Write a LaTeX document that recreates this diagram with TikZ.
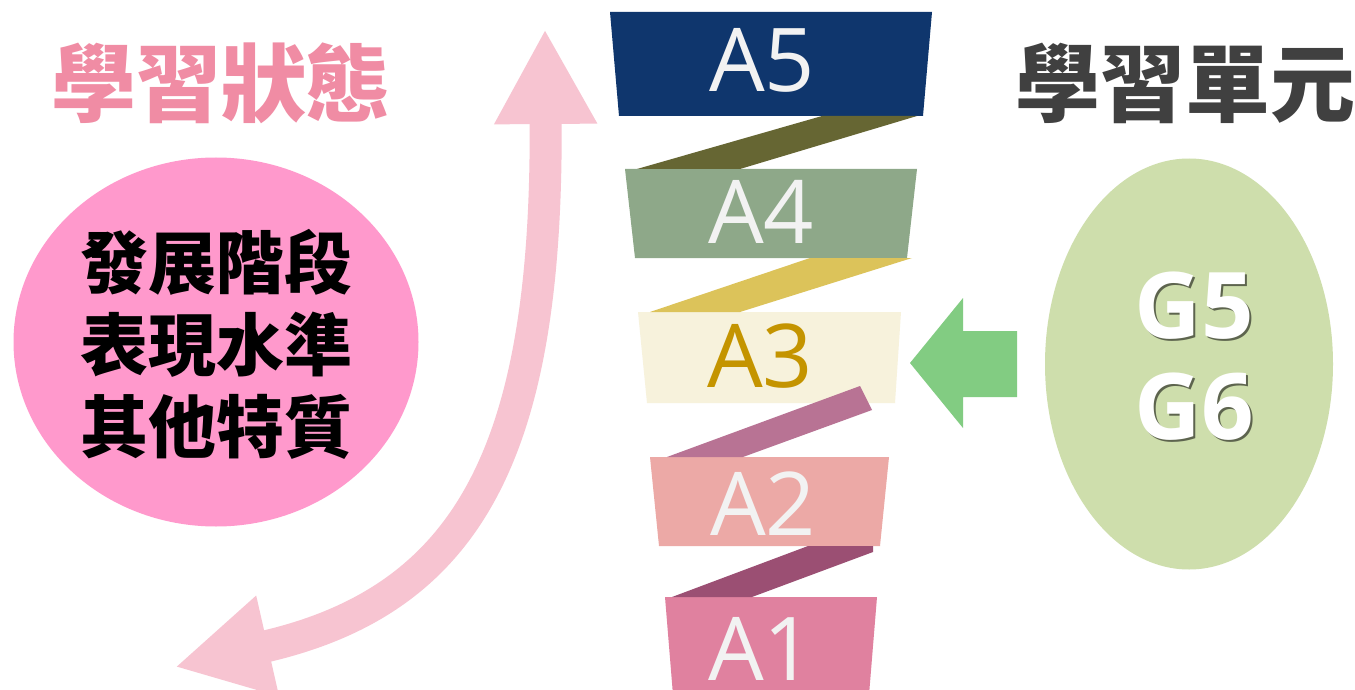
\documentclass[tikz,border=0pt]{standalone}
\usepackage{fontspec}
\usetikzlibrary{arrows.meta,shapes.geometric}
\newfontfamily\cjk{Noto Sans CJK TC}
\newfontfamily\lat{Open Sans}
\definecolor{cA5}{HTML}{0F366D}
\definecolor{cA4}{HTML}{8EA889}
\definecolor{cA3}{HTML}{F7F2DC}
\definecolor{tA3}{HTML}{C49400}
\definecolor{cA2}{HTML}{ECA9A6}
\definecolor{cA1}{HTML}{E0819F}
\definecolor{r54}{HTML}{666633}
\definecolor{r43}{HTML}{DCC35A}
\definecolor{r32}{HTML}{B87394}
\definecolor{r21}{HTML}{9B4F73}
\definecolor{pinkell}{HTML}{FF99CC}
\definecolor{pinkarr}{HTML}{F7C4D1}
\definecolor{pinktitle}{HTML}{F08CA4}
\definecolor{greytitle}{HTML}{404040}
\definecolor{greenarr}{HTML}{82CC82}
\definecolor{greenell}{HTML}{CEDEAC}
\definecolor{barlbl}{HTML}{F2F2F2}
\begin{document}
\begin{tikzpicture}[x=0.5pt,y=-0.5pt,
  title/.style={font=\cjk\bfseries\fontsize{42.5}{50}\selectfont, inner sep=0pt},
  barlabel/.style={font=\lat\fontsize{44}{50}\selectfont, text=barlbl, inner sep=0pt},
  glabel/.style={font=\lat\bfseries\fontsize{46}{50}\selectfont, inner sep=0pt},
  ribbon/.style={draw=none},
  oval/.style={ellipse, draw=none, inner sep=0pt}]
\fill[white] (0,0) rectangle (1355,690);
\useasboundingbox (0,0) rectangle (1355,690);

% titles
\node[title, text=pinktitle] (tl) at (221,83) {學習狀態};
\node[title, text=greytitle] (tr) at (1185,83) {學習單元};

% left ellipse
\node[oval, fill=pinkell, minimum width=202.5pt, minimum height=184.5pt] (le) at (216,342) {};
\node[font=\cjk\bfseries\fontsize{34}{41}\selectfont, align=center, inner sep=0pt] (lt) at (216,344) {發展階段\\表現水準\\其他特質};

% curved double arrow
\coordinate (pt) at (545,29);
\coordinate (pb) at (175,667);
\draw[pinkarr, line width=16pt,
  {Triangle[length=47.5pt,width=48pt]}-{Triangle[length=47.5pt,width=48pt]}]
  (pt) .. controls (548,450) and (470,600) .. (pb);

% bars
\fill[cA5] (610,12) -- (932,12) -- (923,116) -- (619,116) -- cycle;
\fill[cA4] (625,169) -- (917,169) -- (907,258) -- (635,258) -- cycle;
\fill[cA3] (638,312) -- (901,312) -- (895,403) -- (647,403) -- cycle;
\fill[cA2] (650,457) -- (889,457) -- (880,546) -- (659,546) -- cycle;
\fill[cA1] (665,597) -- (877,597) -- (869,695) -- (673,695) -- cycle;

% ribbons between bars
\fill[r54] (822,116) -- (917,116) -- (740,169) -- (637,169) -- cycle;
\fill[r43] (810,258) -- (912,258) -- (740,312) -- (650,312) -- cycle;
\fill[r32] (667,457) -- (860,386) -- (872,410) -- (743,457) -- cycle;
\fill[r21] (808,546) -- (873,546) -- (873,552) -- (752,597) -- (672,597) -- cycle;

% bar labels
\node[barlabel] (a5) at (762,60) {A5};
\node[barlabel] (a4) at (761,212) {A4};
\node[barlabel, text=tA3] (a3) at (760,356) {A3};
\node[barlabel] (a2) at (763,504) {A2};
\node[barlabel] (a1) at (761,649) {A1};

% green block arrow
\fill[greenarr] (910,363) -- (963,298) -- (963,331) -- (1017,331) -- (1017,397) -- (963,397) -- (963,428) -- cycle;

% right ellipse
\node[oval, fill=greenell, minimum width=144pt, minimum height=205.5pt] (re) at (1189,364) {};
\node[glabel, text=black!55!greenell] (g5s) at (1196,308) {G5};
\node[glabel, text=white] (g5) at (1194,306) {G5};
\node[glabel, text=black!55!greenell] (g6s) at (1196,409) {G6};
\node[glabel, text=white] (g6) at (1194,407) {G6};
\end{tikzpicture}
\end{document}
